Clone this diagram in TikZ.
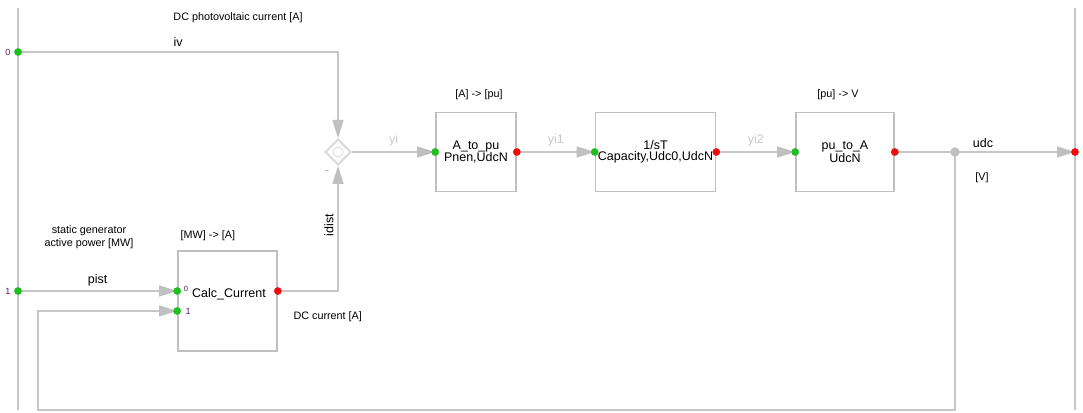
\documentclass[tikz,border=0pt]{standalone}
\usepackage{fontspec}
\setmainfont{Liberation Sans}
\usetikzlibrary{arrows.meta,positioning,shapes.geometric}

\definecolor{wire}{RGB}{198,198,198}
\definecolor{tipgray}{RGB}{192,192,192}
\definecolor{portin}{RGB}{30,190,30}
\definecolor{portout}{RGB}{240,10,10}
\definecolor{pinlbl}{RGB}{80,30,90}
\definecolor{sigtxt}{RGB}{200,200,200}

\tikzset{
  blk/.style={draw=gray!50, line width=1.6pt, minimum width=#1, minimum height=79pt,
    inner sep=0pt, align=center, font=\fontsize{12.5}{11.5}\selectfont},
  sig/.style={draw=wire, line width=1.1pt},
  sigarr/.style={sig, -{Triangle[length=18pt,width=11pt,color=tipgray,fill=tipgray]}},
  note/.style={font=\fontsize{10.8}{13}\selectfont},
  wlbl/.style={font=\fontsize{12.5}{13}\selectfont},
  pin/.style={font=\fontsize{9}{10}\selectfont, text=pinlbl},
}

\begin{document}
\begin{tikzpicture}[x=1pt,y=1pt]
\useasboundingbox (0,0) rectangle (1083,412);

% frame edges
\draw[wire, line width=1.2pt] (18,2) -- (18,404);
\draw[wire, line width=1.2pt] (1075,2) -- (1075,404);

% blocks
\node[diamond, draw=gray!30, fill=white, line width=2pt, minimum size=26pt, inner sep=0pt] (sum) at (338,260) {};
\node[blk=80pt] (atopu) at (476,260) {A\_to\_pu\\Pnen,UdcN};
\node[blk=120pt] (integ) at (655.5,260) {1/sT\\Capacity,Udc0,UdcN};
\node[blk=98pt] (putoa) at (845,260) {pu\_to\_A\\UdcN};
\node[blk=99pt, minimum height=100pt] (calc) at (227.5,111) {};
\node[wlbl] (calctxt) at (229,118) {Calc\_Current};

% ports
\coordinate (in0) at (18,360);
\coordinate (in1) at (18,121);
\coordinate (c0) at (calc.west |- in1);
\coordinate (c1) at ([yshift=-10pt]calc.west);
\coordinate (cout) at (calc.east |- in1);
\coordinate (split) at (955,260);
\coordinate (out) at (1075,260);
\coordinate (fb) at (38,2);

% signals
\draw[sigarr] (in0) -| (sum.north);
\draw[sigarr] (cout) -| (sum.south);
\draw[sigarr] (sum.east) -- (atopu.west) node[midway, above=2pt, wlbl, text=sigtxt] {yi};
\draw[sigarr] (atopu.east) -- (integ.west) node[midway, above=2pt, wlbl, text=sigtxt] {yi1};
\draw[sigarr] (integ.east) -- (putoa.west) node[midway, above=2pt, wlbl, text=sigtxt] {yi2};
\draw[sig] (putoa.east) -- (split);
\draw[sigarr] (split) -- (out);
\draw[sigarr] (in1) -- (c0) node[midway, above=1pt, wlbl] {pist};
\draw[sigarr] (split) |- (fb) |- (c1);

% port dots
\filldraw[fill=tipgray, draw=tipgray] (split) circle (4.5pt);
\foreach \p in {in0, in1, atopu.west, integ.west, putoa.west, c0, c1}
  \filldraw[fill=portin, draw=portin] (\p) circle (3.6pt);
\foreach \p in {atopu.east, integ.east, putoa.east, cout, out}
  \filldraw[fill=portout, draw=portout] (\p) circle (3.6pt);
\draw[gray!30, line width=0.8pt] (sum) circle (5pt);

% labels
\node[pin] at (8,360) {0};
\node[pin] at (8,121) {1};
\node[pin, font=\fontsize{7.5}{8}\selectfont] at (186,123) {0};
\node[pin] at (188,101) {1};
\node[font=\fontsize{13}{13}\selectfont, text=gray!60] at (327,239) {-};
\node[note] (dcpv) at (238,394) {DC photovoltaic current [A]};
\node[wlbl, anchor=west] (ivlbl) at (170,370) {iv};
\node[note, above=8pt of atopu, xshift=3pt] {[A] -> [pu]};
\node[note, above=8pt of putoa, xshift=-7pt] {[pu] -> V};
\node[note, anchor=south west] at ([yshift=6pt]calc.north west) {[MW] -> [A]};
\node[note, align=center] at (89,175) {static generator\\active power [MW]};
\node[wlbl, rotate=90] at (329,187) {idist};
\node[note, anchor=west] at (290,95) {DC current [A]};
\node[wlbl] at (983,269) {udc};
\node[note] at (982,234) {[V]};

\end{tikzpicture}
\end{document}
